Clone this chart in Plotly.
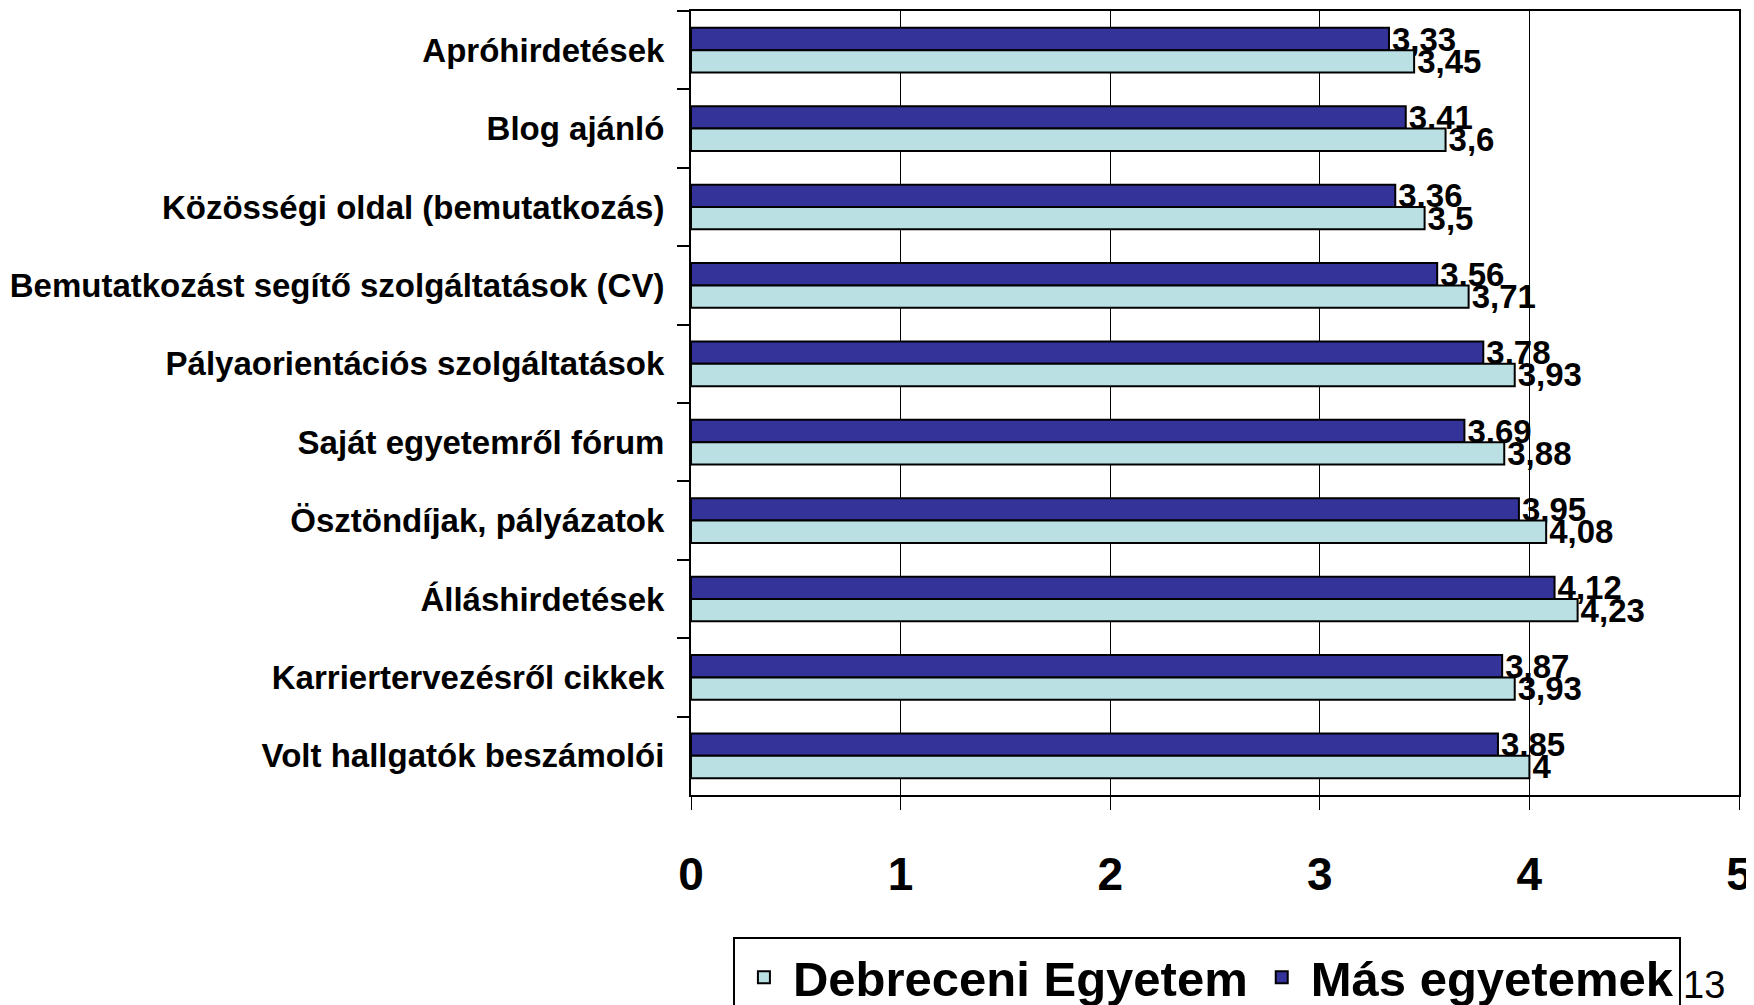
import plotly.graph_objects as go

categories = [
    "Apróhirdetések",
    "Blog ajánló",
    "Közösségi oldal (bemutatkozás)",
    "Bemutatkozást segítő szolgáltatások (CV)",
    "Pályaorientációs szolgáltatások",
    "Saját egyetemről fórum",
    "Ösztöndíjak, pályázatok",
    "Álláshirdetések",
    "Karriertervezésről cikkek",
    "Volt hallgatók beszámolói",
]
debreceni = [3.45, 3.6, 3.5, 3.71, 3.93, 3.88, 4.08, 4.23, 3.93, 4.0]
mas = [3.33, 3.41, 3.36, 3.56, 3.78, 3.69, 3.95, 4.12, 3.87, 3.85]
x_ticks = [0, 1, 2, 3, 4, 5]

def fmt(v):
    s = ("%.2f" % v).rstrip("0").rstrip(".")
    return s.replace(".", ",")

FONT = "Liberation Sans"

fig = go.Figure()
fig.add_trace(go.Bar(
    y=categories, x=mas, orientation="h", name="Más egyetemek",
    marker=dict(color="#333399", line=dict(color="black", width=2)),
    text=[fmt(v) for v in mas], textposition="outside",
    textfont=dict(family=FONT, size=33, color="black", weight="bold"),
    constraintext="none", cliponaxis=False,
))
fig.add_trace(go.Bar(
    y=categories, x=debreceni, orientation="h", name="Debreceni Egyetem",
    marker=dict(color="#BBE0E3", line=dict(color="black", width=2)),
    text=[fmt(v) for v in debreceni], textposition="outside",
    textfont=dict(family=FONT, size=33, color="black", weight="bold"),
    constraintext="none", cliponaxis=False,
))

fig.update_layout(
    width=1746, height=997,
    paper_bgcolor="white", plot_bgcolor="white",
    barmode="group", bargap=0.43, bargroupgap=0,
    margin=dict(l=683, r=15, t=3, b=210, autoexpand=False),
    font=dict(family=FONT, color="black"),
    showlegend=True,
    legend=dict(
        orientation="h", traceorder="reversed",
        x=0.04, xanchor="left", y=-0.181, yanchor="top",
        bordercolor="black", borderwidth=2,
        font=dict(family=FONT, size=49, color="black", weight="bold"),
        itemwidth=48,
    ),
    annotations=[dict(
        text="13", x=0.989, y=-0.2715, xref="paper", yref="paper",
        showarrow=False, font=dict(family=FONT, size=38, color="black"),
    )],
)
fig.update_xaxes(
    range=[0, 5], tickvals=x_ticks, ticktext=[str(t) for t in x_ticks],
    showgrid=True, gridcolor="black", gridwidth=1,
    showline=True, linecolor="black", linewidth=2, mirror=True,
    ticks="outside", ticklen=13, tickcolor="black", tickwidth=1,
    tickfont=dict(family=FONT, size=46, color="black", weight="bold"),
    ticklabelstandoff=25, zeroline=False, automargin=False,
)
fig.update_yaxes(
    autorange="reversed", type="category",
    showline=True, linecolor="black", linewidth=2, mirror=True,
    ticks="outside", ticklen=12, tickcolor="black", tickwidth=2,
    tickson="boundaries",
    tickfont=dict(family=FONT, size=33, color="black", weight="bold"),
    ticklabelstandoff=18, showgrid=False, automargin=False,
)

fig.write_html("out.html")
